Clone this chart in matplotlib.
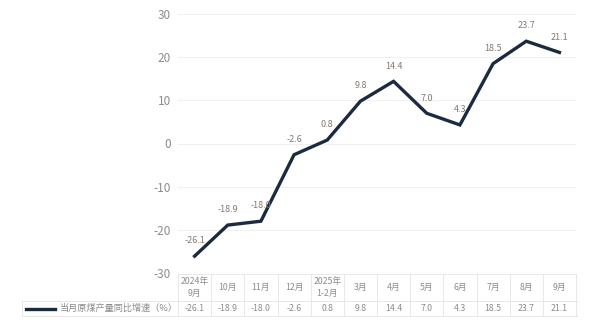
import matplotlib.pyplot as plt
from matplotlib.transforms import blended_transform_factory

plt.rcParams['font.family'] = ['Noto Sans CJK SC', 'DejaVu Sans']

months = ['2024年\n9月', '10月', '11月', '12月', '2025年\n1-2月', '3月', '4月',
          '5月', '6月', '7月', '8月', '9月']
growth = [-26.1, -18.9, -18.0, -2.6, 0.8, 9.8, 14.4, 7.0, 4.3, 18.5, 23.7, 21.1]
series_name = '当月原煤产量同比增速（%）'
yticks = [-30, -20, -10, 0, 10, 20, 30]

line_color = '#1c2a40'
text_grey = '#8c8c8c'
label_color = '#857a70'
border = '#e4e4e4'

fig = plt.figure(figsize=(5.9, 3.3), dpi=100)
ax = fig.add_axes([178/590, 1 - 273/330, 398/590, 259/330])

x = list(range(len(growth)))
ax.plot(x, growth, color=line_color, linewidth=2.4, solid_joinstyle='miter', zorder=3)
for i, v in enumerate(growth):
    ax.annotate('%.1f' % v, (i, v), xytext=(0, 11), textcoords='offset points',
                ha='center', va='center', fontsize=6.5, color=label_color)

ax.set_xlim(-0.5, len(growth) - 0.5)
ax.set_ylim(-30, 30)
ax.set_yticks(yticks)
ax.set_yticklabels([str(t) for t in yticks])
ax.tick_params(axis='y', length=0, labelsize=8.5, labelcolor=text_grey, pad=5)
ax.set_xticks([])
ax.grid(True, axis='y', color='#f0f0f0', linewidth=0.8)
ax.set_axisbelow(True)
for s in ax.spines.values():
    s.set_visible(False)

# data table under the chart
tr = blended_transform_factory(ax.transData, fig.transFigure)
ft = fig.transFigure
y_top, y_mid, y_bot = 1 - 274/330, 1 - 301/330, 1 - 316/330
lw = 0.6
ax.plot([-0.5, len(growth) - 0.5], [y_top, y_top], transform=tr, color=border, lw=lw, clip_on=False)
fig.add_artist(plt.Line2D([22/590, 578/590], [y_mid, y_mid], transform=ft, color=border, lw=lw))
fig.add_artist(plt.Line2D([22/590, 578/590], [y_bot, y_bot], transform=ft, color=border, lw=lw))
fig.add_artist(plt.Line2D([22/590, 22/590], [y_bot, y_mid], transform=ft, color=border, lw=lw))
for i in range(len(growth) + 1):
    ax.plot([i - 0.5, i - 0.5], [y_bot, y_top], transform=tr, color=border, lw=lw, clip_on=False)
for i, (m, v) in enumerate(zip(months, growth)):
    ax.text(i, (y_top + y_mid) / 2, m, transform=tr, ha='center', va='center',
            fontsize=6.3, color=text_grey, linespacing=1.3)
    ax.text(i, (y_mid + y_bot) / 2, '%.1f' % v, transform=tr, ha='center', va='center',
            fontsize=6.3, color=text_grey)

y_leg = (y_mid + y_bot) / 2
fig.add_artist(plt.Line2D([26/590, 55/590], [y_leg, y_leg], transform=ft, color=line_color, lw=2.4))
fig.text(60/590, y_leg, series_name, ha='left', va='center', fontsize=6.6, color=text_grey)

fig.savefig('out.png', dpi=100)
